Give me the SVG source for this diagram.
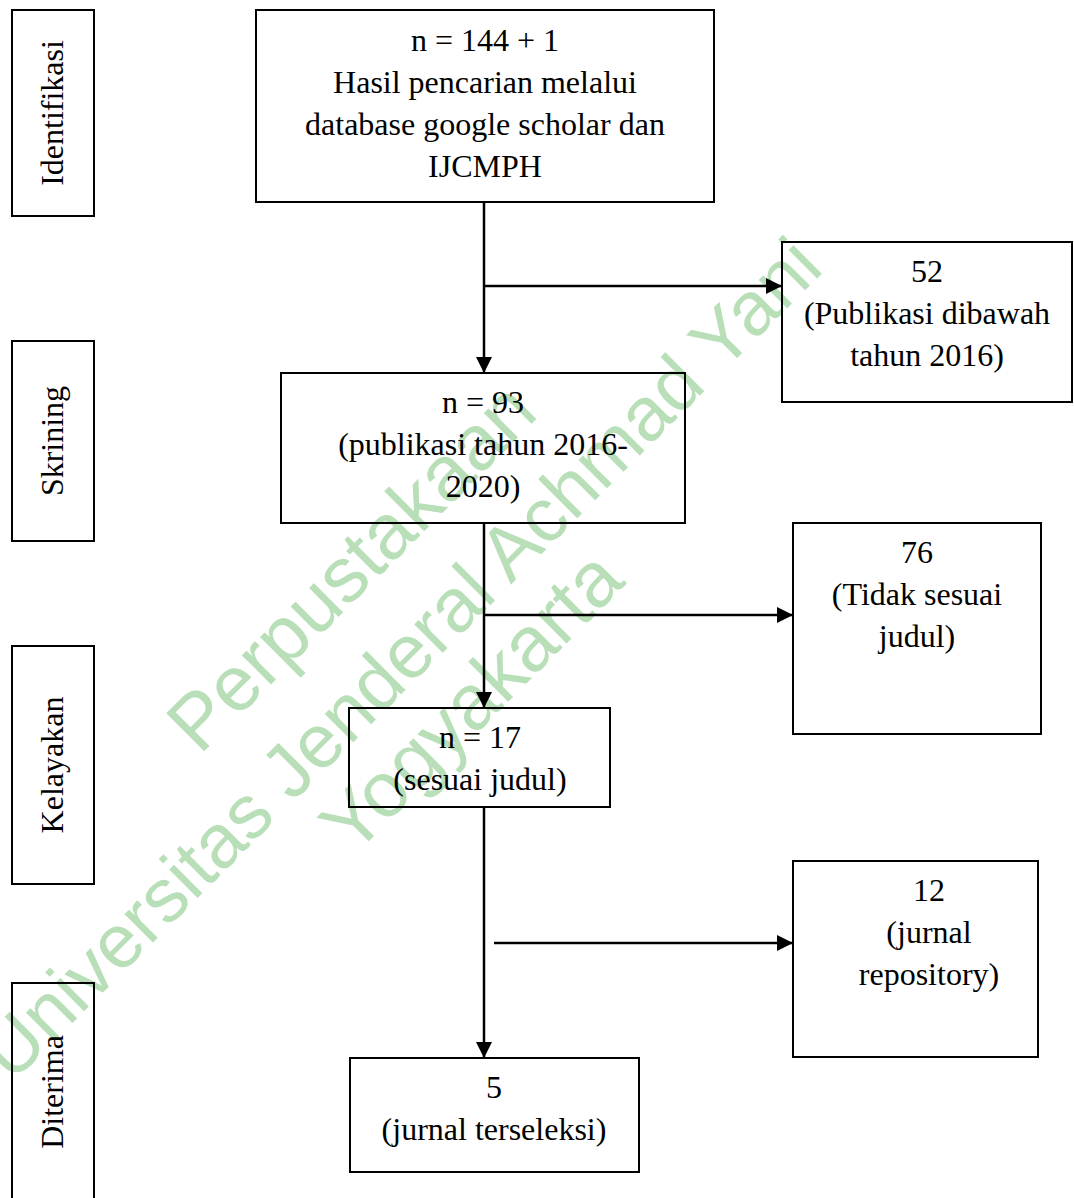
<svg xmlns="http://www.w3.org/2000/svg" width="1074" height="1198" viewBox="0 0 1074 1198">
<style>
.box{fill:none;stroke:#000;stroke-width:2}
.t{font-family:"Liberation Serif","Times New Roman",serif;font-size:32px;fill:#000;text-anchor:middle}
.wm{font-family:"Liberation Sans",Arial,sans-serif;font-size:78px;fill:#b8dfb8;text-anchor:middle}
.ln{stroke:#000;stroke-width:2.5;fill:none}
</style>
<defs>
<marker id="ah" viewBox="0 0 10 10" refX="10" refY="5" markerWidth="16" markerHeight="16" markerUnits="userSpaceOnUse" orient="auto">
<path d="M0,0 L10,5 L0,10 Z" fill="#000"/>
</marker>
</defs>
<rect width="1074" height="1198" fill="#fff"/>
<g id="watermark" transform="translate(413,657) rotate(-45)">
<text class="wm" x="20" y="-81">Perpustakaan</text>
<text class="wm" x="-10" y="18" style="font-size:76px">Universitas Jenderal Achmad Yani</text>
<text class="wm" x="10" y="99">Yogyakarta</text>
</g>
<g id="stage-identifikasi">
<rect class="box" x="12" y="10" width="82" height="206"/>
<text class="t" transform="translate(63,113) rotate(-90)">Identifikasi</text>
</g>
<g id="stage-skrining">
<rect class="box" x="12" y="341" width="82" height="200"/>
<text class="t" transform="translate(63,441) rotate(-90)">Skrining</text>
</g>
<g id="stage-kelayakan">
<rect class="box" x="12" y="646" width="82" height="238"/>
<text class="t" transform="translate(63,765) rotate(-90)">Kelayakan</text>
</g>
<g id="stage-diterima">
<rect class="box" x="12" y="983" width="82" height="230"/>
<text class="t" transform="translate(63,1092) rotate(-90)">Diterima</text>
</g>
<g id="n144">
<rect class="box" x="256" y="10" width="458" height="192"/>
<text class="t" x="485" y="51">n = 144 + 1</text>
<text class="t" x="485" y="93">Hasil pencarian melalui</text>
<text class="t" x="485" y="135">database google scholar dan</text>
<text class="t" x="485" y="177">IJCMPH</text>
</g>
<g id="n52">
<rect class="box" x="782" y="242" width="290" height="160"/>
<text class="t" x="927" y="282">52</text>
<text class="t" x="927" y="324">(Publikasi dibawah</text>
<text class="t" x="927" y="366">tahun 2016)</text>
</g>
<g id="n93">
<rect class="box" x="281" y="373" width="404" height="150"/>
<text class="t" x="483" y="413">n = 93</text>
<text class="t" x="483" y="455">(publikasi tahun 2016-</text>
<text class="t" x="483" y="497">2020)</text>
</g>
<g id="n76">
<rect class="box" x="793" y="523" width="248" height="211"/>
<text class="t" x="917" y="563">76</text>
<text class="t" x="917" y="605">(Tidak sesuai</text>
<text class="t" x="917" y="647">judul)</text>
</g>
<g id="n17">
<rect class="box" x="349" y="708" width="261" height="99"/>
<text class="t" x="480" y="748">n = 17</text>
<text class="t" x="480" y="790">(sesuai judul)</text>
</g>
<g id="n12">
<rect class="box" x="793" y="861" width="245" height="196"/>
<text class="t" x="929" y="901">12</text>
<text class="t" x="929" y="943">(jurnal</text>
<text class="t" x="929" y="985">repository)</text>
</g>
<g id="n5">
<rect class="box" x="350" y="1058" width="289" height="114"/>
<text class="t" x="494" y="1098">5</text>
<text class="t" x="494" y="1140">(jurnal terseleksi)</text>
</g>
<g id="connectors">
<line class="ln" x1="484" y1="202" x2="484" y2="373" marker-end="url(#ah)"/>
<line class="ln" x1="484" y1="286" x2="782" y2="286" marker-end="url(#ah)"/>
<line class="ln" x1="484" y1="523" x2="484" y2="708" marker-end="url(#ah)"/>
<line class="ln" x1="484" y1="615" x2="793" y2="615" marker-end="url(#ah)"/>
<line class="ln" x1="484" y1="807" x2="484" y2="1058" marker-end="url(#ah)"/>
<line class="ln" x1="494" y1="943" x2="793" y2="943" marker-end="url(#ah)"/>
</g>
</svg>
